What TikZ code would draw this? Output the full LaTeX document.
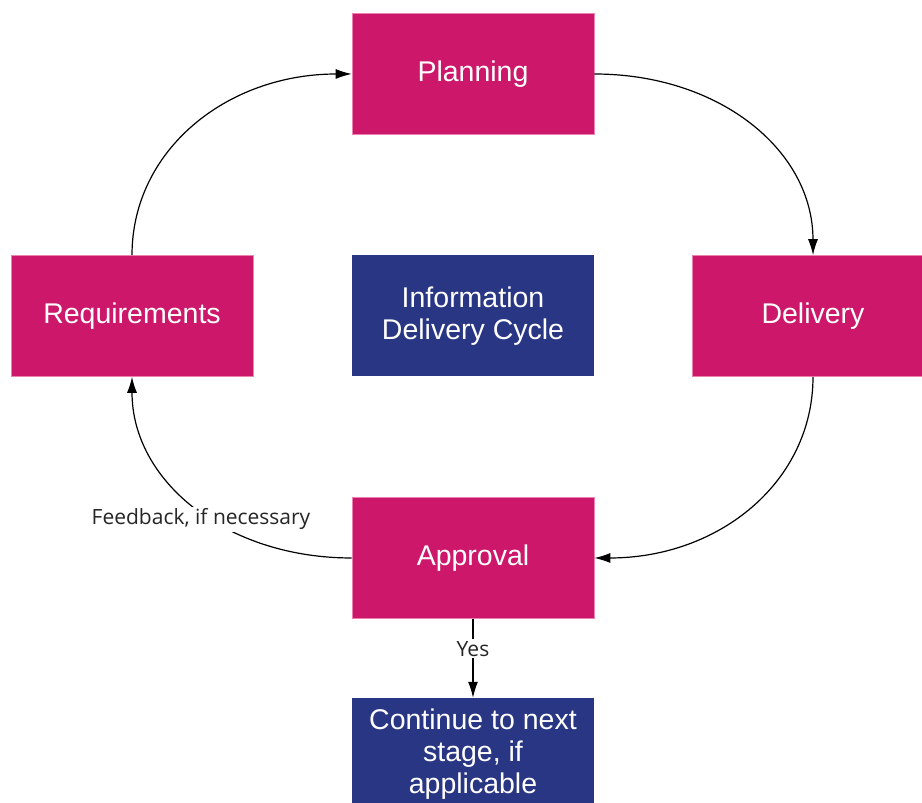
\documentclass[tikz,border=0pt]{standalone}
\usepackage{fontspec}
\setmainfont{Liberation Sans}
\newfontfamily\labelfont{Open Sans}
\usetikzlibrary{arrows.meta}
\definecolor{mag}{RGB}{205,23,106}
\definecolor{navy}{RGB}{41,54,132}
\definecolor{edgepink}{RGB}{236,130,175}
\tikzset{
  box/.style={rectangle, minimum width=242pt, minimum height=121pt, inner sep=0pt,
    text=white, font=\fontsize{28.5}{32}\selectfont, align=center},
  magbox/.style={box, fill=mag, draw=edgepink, line width=0.6pt},
  bluebox/.style={box, fill=navy},
  conn/.style={line width=1.2pt, -{Latex[length=16pt,width=10pt]}},
  lbl/.style={font=\labelfont\fontsize{21}{24}\selectfont, fill=white, text=black!85, inner sep=2pt}
}
\begin{document}
\begin{tikzpicture}[x=1pt,y=1pt]
\useasboundingbox (0,0) rectangle (922,803);
\fill[white] (0,0) rectangle (922,803);
\node[magbox] (plan) at (473,729) {Planning};
\node[magbox] (req) at (132,487) {Requirements};
\node[bluebox] (info) at (473,487) {Information\\Delivery Cycle};
\node[magbox] (del) at (813,487) {Delivery};
\node[magbox] (appr) at (473,245) {Approval};
\node[bluebox, minimum height=142pt] (cont) at (473,34) {Continue to next\\stage, if\\applicable\\[4pt]};
\draw[conn] (req.north) .. controls +(0,105) and +(-125,0) .. (plan.west);
\draw[conn] (plan.east) .. controls +(125,0) and +(0,105) .. (del.north);
\draw[conn] (del.south) .. controls +(0,-105) and +(125,0) .. (appr.east);
\draw[conn] (appr.west) .. controls +(-125,0) and +(0,-105) .. node[lbl, pos=0.42, xshift=-14pt, yshift=2pt] {Feedback, if necessary} (req.south);
\draw[conn] (appr.south) -- node[lbl, pos=0.38] {Yes} (cont.north);
\end{tikzpicture}
\end{document}
